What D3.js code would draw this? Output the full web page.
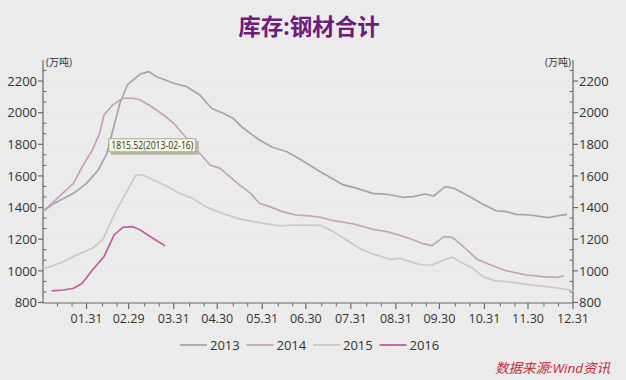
<!DOCTYPE html>
<html><head><meta charset="utf-8">
<script src="https://cdn.jsdelivr.net/npm/d3@7"></script>
<style>
html,body{margin:0;padding:0;background:#ebebeb;}
svg{display:block;}
text{font-family:"Open Sans","Noto Sans CJK SC",sans-serif;}
</style></head>
<body>
<script>
const title = "库存:钢材合计";
const unitLabel = "(万吨)";
const sourceText = "数据来源:Wind资讯";
const seriesNames = ["2013","2014","2015","2016"];
const seriesColors = ["#a3a3b3","#c4a3b5","#c9cabd","#c65c9c"];
const xTickLabels = ["01.31","02.29","03.31","04.30","05.31","06.30","07.31","08.31","09.30","10.31","11.30","12.31"];
const yTicks = [800,1000,1200,1400,1600,1800,2000,2200];

const dates2013 = ["01-01","01-08","01-22","01-31","02-08","02-14","02-16","02-23","02-28","03-08","03-14","03-19","03-24","03-31","04-09","04-18","04-26","05-04","05-11","05-18","05-29","06-07","06-17","06-26","07-10","07-26","08-02","08-15","08-25","09-05","09-12","09-20","09-26","10-04","10-10","10-21","10-30","11-08","11-15","11-22","12-01","12-14","12-21","12-27"];
const values2013 = [1375,1423,1490,1553,1637,1743,1815.52,2059,2175,2244,2259,2227,2211,2186,2164,2112,2028,1996,1964,1901,1827,1781,1753,1705,1627,1543,1528,1490,1484,1465,1469,1486,1473,1532,1522,1469,1421,1380,1374,1357,1353,1336,1349,1357];

const dates2014 = ["01-01","01-12","01-22","01-28","02-04","02-09","02-12","02-18","02-25","03-03","03-08","03-14","03-24","03-31","04-07","04-16","04-25","05-02","05-14","05-23","05-29","06-05","06-14","06-23","07-03","07-10","07-19","08-02","08-15","08-25","09-09","09-18","09-25","10-03","10-09","10-14","10-26","11-06","11-15","11-29","12-10","12-20","12-25"];
const values2014 = [1374,1469,1553,1658,1764,1870,1985,2048,2091,2091,2080,2048,1985,1933,1859,1764,1669,1648,1553,1490,1427,1406,1374,1353,1347,1339,1317,1296,1263,1248,1206,1174,1159,1216,1212,1174,1073,1031,1001,974,963,959,969];

const dates2015 = ["01-01","01-05","01-15","01-24","02-04","02-11","02-20","02-27","03-05","03-10","03-17","03-26","04-04","04-13","04-22","05-02","05-14","05-25","06-05","06-12","06-23","07-10","07-19","07-28","08-06","08-15","08-27","09-03","09-12","09-18","09-25","10-03","10-09","10-16","10-23","10-30","11-07","11-17","11-29","12-10","12-22","12-31"];
const values2015 = [1020,1022,1058,1100,1143,1195,1374,1490,1606,1606,1574,1536,1490,1458,1406,1368,1332,1311,1294,1285,1290,1288,1248,1195,1143,1107,1073,1079,1052,1037,1037,1069,1086,1048,1016,963,938,931,915,904,890,873];

const dates2016 = ["01-07","01-15","01-22","01-28","02-04","02-12","02-19","02-25","03-03","03-08","03-15","03-25"];
const values2016 = [873,879,890,921,1005,1090,1227,1275,1279,1258,1216,1159];

const tooltipValue = 1815.52, tooltipDate = "2013-02-16", tooltipMD = "02-16";

const W = 626, H = 380;
const parse = d3.timeParse("%Y-%m-%d");
const toDate = md => parse("2016-" + md);

const svg = d3.select("body").append("svg").attr("width", W).attr("height", H);
svg.append("rect").attr("width", W).attr("height", H).attr("fill", "#ebebeb");

const x = d3.scaleTime().domain([parse("2016-01-01"), parse("2016-12-31")]).range([43, 573]);
const y = d3.scaleLinear().domain([800, 2200]).range([302.5, 81]);

// very faint gridlines
svg.append("g").selectAll("line").data(yTicks.slice(1)).join("line")
  .attr("x1", 43).attr("x2", 573).attr("y1", d => y(d)).attr("y2", d => y(d))
  .attr("stroke", "#e7e7e7").attr("stroke-width", 1);

// title
svg.append("text").attr("x", 309).attr("y", 35).attr("text-anchor", "middle")
  .attr("font-family", "'Noto Sans CJK SC',sans-serif").attr("font-weight", "bold")
  .attr("font-size", 22.5).attr("fill", "#6e1b7c").text(title);

const axisColor = "#6a6a6a";
// Y axes
const minorY = d3.range(800, 2267, 200/3);
function yAxis(xpos, side) {
  const g = svg.append("g");
  g.append("line").attr("x1", xpos).attr("x2", xpos).attr("y1", 60).attr("y2", 303)
    .attr("stroke", axisColor).attr("stroke-width", 1.2);
  const out = side === "left" ? -5 : 5;
  g.selectAll("line.maj").data(yTicks).join("line").attr("class","maj")
    .attr("x1", xpos).attr("x2", xpos + out).attr("y1", d => y(d)).attr("y2", d => y(d))
    .attr("stroke", axisColor).attr("stroke-width", 1.2);
  g.selectAll("line.min").data(minorY.filter(v => !yTicks.some(t => Math.abs(t - v) < 1))).join("line").attr("class","min")
    .attr("x1", xpos).attr("x2", xpos - out * 0.7).attr("y1", d => y(d)).attr("y2", d => y(d))
    .attr("stroke", axisColor).attr("stroke-width", 1);
  g.selectAll("text").data(yTicks).join("text")
    .attr("x", xpos + (side === "left" ? -6 : 6)).attr("y", d => y(d)).attr("dy", "0.36em")
    .attr("text-anchor", side === "left" ? "end" : "start")
    .attr("font-size", 13).attr("fill", "#333").text(d => d);
}
yAxis(43, "left");
yAxis(573, "right");
svg.append("text").attr("x", 46).attr("y", 66).attr("font-size", 10).attr("fill", "#333")
  .attr("font-family", "'Noto Sans CJK SC',sans-serif").text(unitLabel);
svg.append("text").attr("x", 571).attr("y", 66).attr("font-size", 10).attr("fill", "#333")
  .attr("text-anchor", "end").attr("font-family", "'Noto Sans CJK SC',sans-serif").text(unitLabel);

// X axis
const gx = svg.append("g");
gx.append("line").attr("x1", 43).attr("x2", 573).attr("y1", 303).attr("y2", 303)
  .attr("stroke", axisColor).attr("stroke-width", 1.2);
const monthEnds = d3.range(1, 13).map(m => d3.timeDay.offset(new Date(2016, m, 1), -1));
const minorX = [];
for (let m = 0; m < 12; m++) { minorX.push(new Date(2016, m, 11)); minorX.push(new Date(2016, m, 21)); }
gx.selectAll("line.min").data(minorX).join("line").attr("class","min")
  .attr("x1", d => x(d)).attr("x2", d => x(d)).attr("y1", 303).attr("y2", 306.5)
  .attr("stroke", axisColor).attr("stroke-width", 1);
gx.selectAll("line.maj").data(monthEnds).join("line").attr("class","maj")
  .attr("x1", d => x(d)).attr("x2", d => x(d)).attr("y1", 303).attr("y2", 309)
  .attr("stroke", axisColor).attr("stroke-width", 1.2);
gx.selectAll("text").data(monthEnds).join("text")
  .attr("x", (d) => x(d)).attr("y", 323).attr("text-anchor", "middle")
  .attr("font-size", 12.5).attr("fill", "#333").text((d, i) => xTickLabels[i]);

// lines
const allDates = [dates2013, dates2014, dates2015, dates2016];
const allValues = [values2013, values2014, values2015, values2016];
const line = d3.line().x(d => x(d.date)).y(d => y(d.value));
allDates.forEach((ds, i) => {
  const data = ds.map((md, j) => ({date: toDate(md), value: allValues[i][j]}));
  svg.append("path").datum(data).attr("d", line).attr("fill", "none")
    .attr("stroke", seriesColors[i]).attr("stroke-width", 1.7).attr("stroke-linejoin", "round");
});

// tooltip
const tx = x(toDate(tooltipMD)), ty = y(tooltipValue);
const tg = svg.append("g").attr("transform", `translate(${tx - 1},${ty - 3})`);
tg.append("rect").attr("x", 2).attr("y", 2).attr("width", 88).attr("height", 14).attr("fill", "#b9b9a9");
tg.append("rect").attr("x", 0).attr("y", 0).attr("width", 87).attr("height", 13)
  .attr("fill", "#f6f6dc").attr("stroke", "#9c9c86").attr("stroke-width", 0.8);
tg.append("text").attr("x", 2.5).attr("y", 10).attr("textLength", 82).attr("lengthAdjust", "spacingAndGlyphs")
  .attr("font-size", 10).attr("fill", "#333").text(`${tooltipValue}(${tooltipDate})`);

// legend
const lg = svg.append("g");
seriesNames.forEach((n, i) => {
  const lx = 180 + i * 66.5;
  lg.append("line").attr("x1", lx).attr("x2", lx + 27).attr("y1", 345).attr("y2", 345)
    .attr("stroke", seriesColors[i]).attr("stroke-width", 1.8);
  lg.append("text").attr("x", lx + 30).attr("y", 345).attr("dy", "0.36em")
    .attr("font-size", 13).attr("fill", "#333").text(n);
});

// source
svg.append("text").attr("x", 610).attr("y", 373).attr("text-anchor", "end")
  .attr("font-family", "'Noto Sans CJK SC',sans-serif").attr("font-style", "italic")
  .attr("font-size", 13.5).attr("fill", "#c4283c").text(sourceText);
</script>
</body></html>
